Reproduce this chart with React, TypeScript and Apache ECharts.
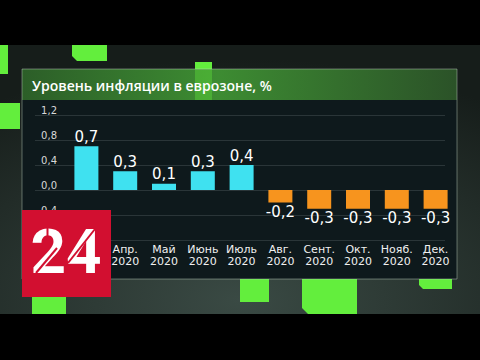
import React, { useEffect, useRef } from "react";
import * as echarts from "echarts";

const categories = [
  "Март\n2020",
  "Апр.\n2020",
  "Май\n2020",
  "Июнь\n2020",
  "Июль\n2020",
  "Авг.\n2020",
  "Сент.\n2020",
  "Окт.\n2020",
  "Нояб.\n2020",
  "Дек.\n2020",
];
const inflation = [0.7, 0.3, 0.1, 0.3, 0.4, -0.2, -0.3, -0.3, -0.3, -0.3];
const yMin = -0.8;
const yMax = 1.2;
const yStep = 0.4;
const title = "Уровень инфляции в еврозоне, %";

const CYAN = "#3fe1f0";
const ORANGE = "#f7941e";
const GREEN = "#63ee3d";
const RED = "#d20f30";

const fmt = (v: number) => v.toFixed(1).replace(".", ",");

export default function App() {
  const ref = useRef<HTMLDivElement>(null);
  useEffect(() => {
    if (!ref.current) return;
    const chart = echarts.init(ref.current, null, { renderer: "svg" });

    const block = (x: number, y: number, w: number, h: number, bevel = 0) =>
      bevel > 0
        ? {
            type: "polygon",
            z: 1,
            silent: true,
            shape: {
              points: [
                [x, y],
                [x + w, y],
                [x + w, y + h],
                [x + bevel, y + h],
                [x, y + h - bevel],
              ],
            },
            style: { fill: GREEN },
          }
        : {
            type: "rect",
            z: 1,
            silent: true,
            shape: { x, y, width: w, height: h },
            style: { fill: GREEN },
          };

    const cut = (x1: number, y1: number, x2: number, y2: number) => ({
      type: "line",
      z: 52,
      silent: true,
      shape: { x1, y1, x2, y2 },
      style: { stroke: RED, lineWidth: 2 },
    });

    chart.setOption({
      animation: false,
      backgroundColor: "#000",
      graphic: [
        {
          type: "rect",
          z: 0,
          silent: true,
          shape: { x: 0, y: 45, width: 480, height: 269 },
          style: {
            fill: new echarts.graphic.RadialGradient(0.5, 0.95, 0.9, [
              { offset: 0, color: "#3a4a44" },
              { offset: 1, color: "#161d1a" },
            ]),
          },
        },
        block(0, 45, 8, 29),
        block(72, 45, 35, 16, 5),
        block(195, 62, 17, 10),
        block(0, 103, 20, 26),
        block(32, 297, 34, 17),
        block(240, 273, 29, 29),
        block(302, 273, 55, 41, 6),
        block(419, 273, 33, 16, 4),
        {
          type: "rect",
          z: 2,
          silent: true,
          shape: { x: 22, y: 69, width: 435, height: 31 },
          style: {
            fill: new echarts.graphic.LinearGradient(0, 0, 1, 0, [
              { offset: 0, color: "#2c5e28" },
              { offset: 0.45, color: "#3d8c32" },
              { offset: 1, color: "#2b5228" },
            ]),
          },
        },
        {
          type: "rect",
          z: 3,
          silent: true,
          shape: { x: 195, y: 69, width: 17, height: 31 },
          style: { fill: GREEN, opacity: 0.35 },
        },
        {
          type: "rect",
          z: 2,
          silent: true,
          shape: { x: 22, y: 100, width: 435, height: 179 },
          style: { fill: "#0e191c" },
        },
        {
          type: "rect",
          z: 3,
          silent: true,
          shape: { x: 22, y: 69, width: 435, height: 210 },
          style: { fill: "none", stroke: "rgba(190,210,190,0.45)", lineWidth: 1 },
        },
        {
          type: "text",
          z: 4,
          silent: true,
          x: 32,
          y: 85,
          style: {
            text: title,
            fill: "#ffffff",
            font: "600 14px 'Open Sans'",
            verticalAlign: "middle",
          },
        },
        {
          type: "rect",
          z: 50,
          silent: true,
          shape: { x: 22, y: 210, width: 89, height: 87 },
          style: { fill: RED },
        },
        {
          type: "text",
          z: 51,
          silent: true,
          x: 66,
          y: 251,
          style: {
            text: "24",
            fill: "#ffffff",
            font: "bold 62px Roboto",
            align: "center",
            verticalAlign: "middle",
          },
        },
        cut(47.5, 227, 47.5, 240),
        cut(36, 273, 57, 248),
        cut(68, 263, 95, 229),
      ],
      grid: [
        { left: 35, right: 35, top: 115, height: 125 },
        { left: 67, right: 25, top: 115, height: 125 },
      ],
      xAxis: [
        { type: "value", gridIndex: 0, show: false },
        {
          type: "category",
          gridIndex: 1,
          data: categories,
          z: 10,
          axisLine: { show: false },
          axisTick: { show: false },
          axisLabel: {
            interval: 0,
            color: "#f0f0f0",
            fontSize: 11,
            lineHeight: 12.5,
            margin: 3,
            fontFamily: "'DejaVu Sans'",
          },
        },
      ],
      yAxis: [
        {
          type: "value",
          gridIndex: 0,
          min: yMin,
          max: yMax,
          interval: yStep,
          z: 10,
          axisLine: { show: false },
          axisTick: { show: false },
          splitLine: { lineStyle: { color: "#2a3538", width: 1 } },
          axisLabel: {
            inside: true,
            align: "right",
            verticalAlign: "bottom",
            margin: 22,
            color: "#d8d8d8",
            fontSize: 10,
            fontFamily: "'DejaVu Sans'",
            formatter: (v: number) => fmt(v),
          },
        },
        {
          type: "value",
          gridIndex: 1,
          min: yMin,
          max: yMax,
          interval: yStep,
          show: false,
          splitLine: { show: false },
        },
      ],
      series: [
        {
          type: "bar",
          xAxisIndex: 1,
          yAxisIndex: 1,
          z: 12,
          barWidth: 24,
          data: inflation.map((v) => ({
            value: v,
            itemStyle: { color: v >= 0 ? CYAN : ORANGE },
            label: { position: v >= 0 ? "top" : "bottom" },
          })),
          label: {
            show: true,
            distance: 2,
            color: "#ffffff",
            fontSize: 15,
            fontFamily: "'DejaVu Sans'",
            formatter: (p: any) => fmt(p.value),
          },
        },
      ],
    });
    return () => chart.dispose();
  }, []);
  return (
    <div
      ref={ref}
      style={{ position: "fixed", left: 0, top: 0, width: 480, height: 360 }}
    />
  );
}
